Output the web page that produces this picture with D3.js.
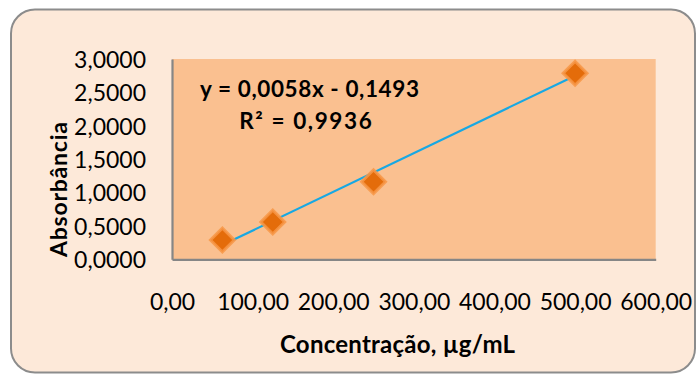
<!DOCTYPE html>
<html>
<head>
<meta charset="utf-8">
<script src="https://cdn.jsdelivr.net/npm/d3@7"></script>
<style>
  html, body { margin: 0; padding: 0; background: #ffffff; }
  svg { display: block; }
  text { font-family: Lato, "Open Sans", sans-serif; fill: #000; }
</style>
</head>
<body>
<svg id="chart" width="696" height="374"></svg>
<script>
// ---- data ----
const concentrations = [62.5, 125, 250, 500];          // µg/mL
const absorbances    = [0.289, 0.559, 1.162, 2.786];
const xTickValues = [0, 100, 200, 300, 400, 500, 600];
const yTickValues = [0, 0.5, 1.0, 1.5, 2.0, 2.5, 3.0];
const trendSlope = 0.0058;
const trendIntercept = -0.1493;
const rSquared = 0.9936;
const xTitle = "Concentração, µg/mL";
const yTitle = "Absorbância";

// ---- layout ----
const svg = d3.select("#chart");
const locale = d3.formatLocale({decimal: ",", thousands: ".", grouping: [3], currency: ["", ""]});
const fmt4 = locale.format(".4f");
const fmt2 = locale.format(".2f");

// outer rounded frame
svg.append("rect")
  .attr("x", 11).attr("y", 9.5).attr("width", 684).attr("height", 363)
  .attr("rx", 24).attr("ry", 24)
  .attr("fill", "#FDE9D9").attr("stroke", "#8C8C8C").attr("stroke-width", 2);

const x = d3.scaleLinear().domain([0, 600]).range([172, 655.7]);
const y = d3.scaleLinear().domain([0, 3]).range([259.3, 59]);

// plot area
svg.append("rect")
  .attr("x", x(0)).attr("y", y(3))
  .attr("width", x(600) - x(0)).attr("height", y(0) - y(3))
  .attr("fill", "#FAC090");

// y axis
const gy = svg.append("g").attr("transform", `translate(${x(0)},0)`)
  .call(d3.axisLeft(y).tickValues(yTickValues).tickSize(0).tickPadding(26).tickFormat(fmt4));
gy.select(".domain").attr("stroke", "#868686").attr("stroke-width", 2.2);
gy.selectAll("text").attr("font-size", 23).attr("font-family", "Lato").attr("fill", "#000").attr("dy", "0.36em");

// x axis (domain line at plot bottom, labels far below)
const gx = svg.append("g").attr("transform", `translate(0,${y(0)})`)
  .call(d3.axisBottom(x).tickValues(xTickValues).tickSize(0).tickFormat(fmt2));
gx.select(".domain").attr("stroke", "#868686").attr("stroke-width", 2.2);
gx.selectAll("text").attr("font-size", 23).attr("font-family", "Lato").attr("fill", "#000")
  .attr("y", 310 - y(0)).attr("dy", 0);

// trendline
const xMin = d3.min(concentrations), xMax = d3.max(concentrations);
svg.append("line")
  .attr("x1", x(xMin)).attr("y1", y(trendSlope * xMin + trendIntercept))
  .attr("x2", x(xMax)).attr("y2", y(trendSlope * xMax + trendIntercept))
  .attr("stroke", "#17A8E3").attr("stroke-width", 2.2);

// markers (diamonds)
const diamond = d3.symbol().type(d3.symbolSquare).size(285);
svg.append("g").selectAll("path")
  .data(concentrations.map((c, i) => [c, absorbances[i]]))
  .join("path")
  .attr("d", diamond)
  .attr("transform", d => `translate(${x(d[0])},${y(d[1])}) rotate(45)`)
  .attr("fill", "#E46C0A")
  .attr("stroke", "#F79646").attr("stroke-opacity", 0.85).attr("stroke-width", 3);

// trendline equation
const fmtEq = locale.format(".4f");
svg.append("text")
  .attr("x", 200).attr("y", 96.7)
  .attr("font-size", 22.5).attr("font-weight", 700)
  .attr("textLength", 219).attr("lengthAdjust", "spacing")
  .text(`y = ${fmtEq(trendSlope)}x - ${fmtEq(-trendIntercept)}`);
svg.append("text")
  .attr("x", 239.3).attr("y", 129.3)
  .attr("font-size", 22.5).attr("font-weight", 700)
  .attr("textLength", 132.4).attr("lengthAdjust", "spacing")
  .text(`R² = ${fmtEq(rSquared)}`);

// axis titles
svg.append("text")
  .attr("x", 280).attr("y", 353.3)
  .attr("font-size", 24).attr("font-weight", 700)
  .attr("textLength", 235).attr("lengthAdjust", "spacing")
  .text(xTitle);
svg.append("text")
  .attr("transform", "translate(67,189.5) rotate(-90)")
  .attr("text-anchor", "middle")
  .attr("font-size", 23).attr("font-weight", 700)
  .attr("textLength", 135).attr("lengthAdjust", "spacing")
  .text(yTitle);
</script>
</body>
</html>
